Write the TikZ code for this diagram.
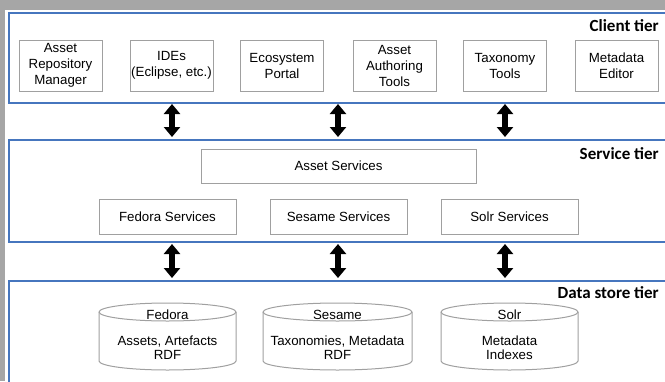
\documentclass[tikz,border=0pt]{standalone}
\usepackage{fontspec}
\setmainfont{Liberation Sans}
\newfontfamily\calib{Carlito}
\usetikzlibrary{arrows.meta}
\definecolor{bggray}{RGB}{166,166,166}
\definecolor{tierblue}{RGB}{70,118,190}
\definecolor{boxgray}{RGB}{160,160,160}
\tikzset{
  tier/.style={draw=tierblue, line width=2pt, fill=white, anchor=north west, inner sep=0pt},
  tierlabel/.style={anchor=east, inner sep=0pt, font=\calib\bfseries\fontsize{17}{20}\selectfont},
  cbox/.style={draw=boxgray, line width=1pt, fill=white, minimum width=83pt, minimum height=51pt, inner sep=0pt, align=center, font=\fontsize{13.3}{16}\selectfont},
  sbox/.style={draw=boxgray, line width=1pt, fill=white, minimum width=137pt, minimum height=35pt, inner sep=0pt, align=center, font=\fontsize{13.3}{16}\selectfont},
  ctext/.style={inner sep=0pt, align=center, font=\fontsize{13.3}{14}\selectfont},
  cylline/.style={draw=boxgray, line width=1pt, fill=white},
  dblarrow/.style={line width=6pt, {Triangle[width=16pt,length=10pt]}-{Triangle[width=16pt,length=10pt]}}
}
\newcommand\dbcyl[4]{% left, right, top, bottom
  \pgfmathsetmacro\rx{(#2-#1)/2}
  \draw[cylline] (#1,#3+9) -- (#1,#4-9) arc[start angle=180,end angle=0,x radius=\rx,y radius=9]
    -- (#2,#3+9) arc[start angle=0,end angle=-180,x radius=\rx,y radius=9] -- cycle;
  \draw[cylline] (#1,#3+9) arc[start angle=180,end angle=0,x radius=\rx,y radius=9];
}
\begin{document}
\begin{tikzpicture}[x=1pt,y=-1pt]
\path[use as bounding box] (0,0) rectangle (665,381);
\clip (0,0) rectangle (665,381);
\fill[bggray] (0,0) rectangle (665,381);
\fill[white] (5,10) rectangle (665,381);

% tiers
\node[tier, minimum width=680pt, minimum height=90pt] (client) at (8,12) {};
\node[tier, minimum width=680pt, minimum height=102pt] (service) at (8,139) {};
\node[tier, minimum width=680pt, minimum height=130pt] (data) at (8,280) {};

\node[tierlabel] (clientlbl) at (659,26) {Client tier};
\node[tierlabel] (servicelbl) at (659,154) {Service tier};
\node[tierlabel] (datalbl) at (659,293) {Data store tier};

% client tier boxes
\node[cbox] (arm) at (60.5,65.5) {Asset\\Repository\\Manager};
\node[cbox] (ide) at (171.5,65.5) {IDEs\\(Eclipse, etc.)};
\node[cbox] (eco) at (282,65.5) {Ecosystem\\Portal};
\node[cbox] (aat) at (394.5,65.5) {Asset\\Authoring\\Tools};
\node[cbox] (tax) at (505,65.5) {Taxonomy\\Tools};
\node[cbox] (med) at (616.5,65.5) {Metadata\\Editor};

% service tier boxes
\node[sbox, minimum width=275pt, minimum height=34pt] (assetsvc) at (338.5,166) {Asset Services};
\node[sbox] (fedsvc) at (167.5,216.5) {Fedora Services};
\node[sbox] (sessvc) at (338.5,216.5) {Sesame Services};
\node[sbox] (solrsvc) at (509.5,216.5) {Solr Services};

% data store cylinders
\dbcyl{99}{236}{303}{370}
\dbcyl{263}{412}{303}{370}
\dbcyl{441}{578}{303}{370}
\node[ctext] (fedora) at (167.5,315) {Fedora};
\node[ctext] (fedorac) at (167.5,348) {Assets, Artefacts\\RDF};
\node[ctext] (sesame) at (337.5,315) {Sesame};
\node[ctext] (sesamec) at (337.5,348) {Taxonomies, Metadata\\RDF};
\node[ctext] (solr) at (509.5,315) {Solr};
\node[ctext] (solrc) at (509.5,348) {Metadata\\Indexes};

% arrows
\coordinate (t1a) at (172,104); \coordinate (t1b) at (172,137);
\coordinate (t2a) at (338,104); \coordinate (t2b) at (338,137);
\coordinate (t3a) at (505,104); \coordinate (t3b) at (505,137);
\coordinate (b1a) at (172,244); \coordinate (b1b) at (172,278);
\coordinate (b2a) at (338,244); \coordinate (b2b) at (338,278);
\coordinate (b3a) at (505,244); \coordinate (b3b) at (505,278);
\draw[dblarrow] (t1a) -- (t1b);
\draw[dblarrow] (t2a) -- (t2b);
\draw[dblarrow] (t3a) -- (t3b);
\draw[dblarrow] (b1a) -- (b1b);
\draw[dblarrow] (b2a) -- (b2b);
\draw[dblarrow] (b3a) -- (b3b);
\end{tikzpicture}
\end{document}
